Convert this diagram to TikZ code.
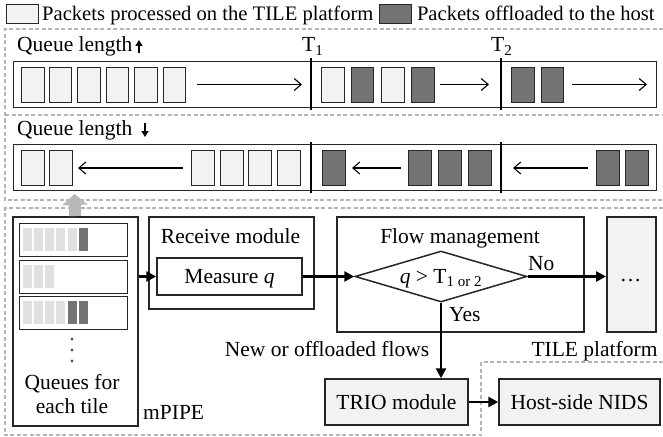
\documentclass[tikz,border=0pt]{standalone}
\usepackage{fontspec}
\setmainfont{Liberation Serif}
\usetikzlibrary{arrows.meta,shapes.geometric,calc}

\definecolor{pktlight}{HTML}{F2F2F2}
\definecolor{pktdark}{HTML}{737373}
\definecolor{edgec}{HTML}{262626}
\definecolor{dashc}{HTML}{B4B4B4}
\definecolor{barlight}{HTML}{E0E0E0}
\definecolor{liftc}{HTML}{B8B8B8}

\begin{document}
\begin{tikzpicture}[x=1pt,y=-1pt,
  font=\fontsize{21.5}{24}\selectfont,
  region/.style={draw=dashc, line width=1.2pt, dash pattern=on 4pt off 2.5pt},
  qbarbox/.style={draw=edgec, line width=1.4pt, inner sep=0pt, anchor=north west,
                  minimum width=643pt, minimum height=46pt},
  pkt/.style={draw=edgec, line width=1.2pt, minimum width=22.5pt, minimum height=35pt,
              inner sep=0pt, anchor=north west},
  lp/.style={pkt, fill=pktlight},
  dp/.style={pkt, fill=pktdark},
  flowarr/.style={draw=black, line width=1.1pt,
                  -{Straight Barb[length=7pt,width=12pt,line width=1.1pt]}},
  thr/.style={line width=2.6pt, black},
  box/.style={draw=edgec, line width=1.5pt, inner sep=0pt},
  gbox/.style={box, fill=pktlight},
  mainarr/.style={line width=2.6pt, -{Triangle[length=10pt,width=10pt]}},
  lbl/.style={inner sep=0pt, anchor=base},
  tilebar/.style={inner sep=0pt, minimum width=9pt, minimum height=23pt, anchor=north west},
  tl/.style={tilebar, fill=barlight},
  td/.style={tilebar, fill=pktdark},
  innerq/.style={draw=edgec, line width=1.3pt, inner sep=0pt, anchor=north west,
                 minimum width=108pt, minimum height=33pt},
 ]
\useasboundingbox (0,0) rectangle (663,436);

% ---- legend ----
\begin{scope}[font=\fontsize{20.6}{24}\selectfont]
\node[lp, minimum width=32pt, minimum height=19pt] (legL) at (6,4) {};
\node[lbl, anchor=base west] (legLt) at (42,21) {Packets processed on the TILE platform};
\node[dp, minimum width=32pt, minimum height=19pt] (legD) at ($(legLt.base east)+(5,-17)$) {};
\node[lbl, anchor=base west] (legDt) at ($(legD.north east)+(5,17)$) {Packets offloaded to the host};
\end{scope}

% ---- dashed regions ----
\draw[region] (663,29) -- (5,29) -- (5,200) -- (663,200);
\draw[region] (5,115) -- (663,115);
\draw[region] (663,208) -- (5,208) -- (5,435) -- (481,435) -- (481,362) -- (663,362);

% ---- queue growing ----
\node[lbl, anchor=base west] (h1) at (17,52) {Queue length};
\coordinate (h1a) at (139,53);
\coordinate (h1b) at (139,40);
\draw[line width=2.2pt, -{Triangle[length=6pt,width=7pt]}] (h1a) -- (h1b);

\node[qbarbox] (bar1) at (13,61) {};
\foreach \x [count=\i] in {21,48.5,77,105.5,134,162.5}
  \node[lp] (a\i) at (\x,67) {};
\node[lp] (b1) at (321,67) {};
\node[dp] (b2) at (350.5,67) {};
\node[lp] (b3) at (381,67) {};
\node[dp] (b4) at (411,67) {};
\node[dp] (c1) at (511,67) {};
\node[dp] (c2) at (540.5,67) {};

\coordinate (r1s) at (197,84.5);  \coordinate (r1e) at (302,84.5);
\coordinate (r2s) at (440,84.5);  \coordinate (r2e) at (489,84.5);
\coordinate (r3s) at (572,84.5);  \coordinate (r3e) at (647,84.5);
\draw[flowarr] (r1s) -- (r1e);
\draw[flowarr] (r2s) -- (r2e);
\draw[flowarr] (r3s) -- (r3e);

\node[lbl, anchor=base west] (T1) at (302,52) {T\textsubscript{1}};
\node[lbl, anchor=base west] (T2) at (491,52) {T\textsubscript{2}};
\coordinate (t1a) at (311,58);  \coordinate (t1b) at (311,110);
\coordinate (t2a) at (501,58);  \coordinate (t2b) at (501,110);
\draw[thr] (t1a) -- (t1b);
\draw[thr] (t2a) -- (t2b);

% ---- queue shrinking ----
\node[lbl, anchor=base west] (h2) at (17,135) {Queue length};
\coordinate (h2a) at (145,123);
\coordinate (h2b) at (145,137);
\draw[line width=2.2pt, -{Triangle[length=6pt,width=7pt]}] (h2a) -- (h2b);

\node[qbarbox] (bar2) at (13,144) {};
\foreach \x [count=\i] in {21,49,191,220,248,277}
  \node[lp] (d\i) at (\x,150) {};
\foreach \x [count=\i] in {322,408,438,468,596,625}
  \node[dp] (e\i) at (\x,150) {};

\coordinate (s1s) at (183,168);  \coordinate (s1e) at (78,168);
\coordinate (s2s) at (401,168);  \coordinate (s2e) at (352,168);
\coordinate (s3s) at (588,168);  \coordinate (s3e) at (513,168);
\draw[flowarr] (s1s) -- (s1e);
\draw[flowarr] (s2s) -- (s2e);
\draw[flowarr] (s3s) -- (s3e);

\coordinate (t3a) at (311,142);  \coordinate (t3b) at (311,193);
\coordinate (t4a) at (501,142);  \coordinate (t4b) at (501,193);
\draw[thr] (t3a) -- (t3b);
\draw[thr] (t4a) -- (t4b);

% ---- mPIPE queues ----
\node[box, anchor=north west, minimum width=125pt, minimum height=209pt] (cont) at (12,216) {};
\coordinate (lift) at (74.5,194);
\draw[liftc, line width=12pt, -{Triangle[length=11pt,width=25pt]}] (cont.north) -- (lift);

\node[innerq] (q1) at (19,223) {};
\node[innerq] (q2) at (19,259.5) {};
\node[innerq] (q3) at (19,295.5) {};
\foreach \x [count=\i] in {23,34,45,56,67.5}
  \node[tl] (qa\i) at (\x,228) {};
\node[td] (qa6) at (78.5,228) {};
\foreach \x [count=\i] in {23,34,45}
  \node[tl] (qb\i) at (\x,264.5) {};
\foreach \x [count=\i] in {23,34,45,56}
  \node[tl] (qc\i) at (\x,300.5) {};
\node[td] (qc5) at (67.5,300.5) {};
\node[td] (qc6) at (78.5,300.5) {};

\foreach \y [count=\i] in {339,350,361}
  \node[circle, fill=edgec!80, inner sep=0pt, minimum size=3.4pt] (dot\i) at (72,\y) {};

\node[lbl] (qtx1) at (72,389) {Queues for};
\node[lbl] (qtx2) at (72,413) {each tile};
\node[lbl, anchor=base west] (mpipe) at (143,419) {mPIPE};

% ---- receive module ----
\node[box, anchor=north west, minimum width=165pt, minimum height=92pt] (recv) at (148,216) {};
\node[lbl] (recvt) at (230.5,243) {Receive module};
\node[box, minimum width=145pt, minimum height=37pt, text depth=0pt] (meas) at (229.5,276.5) {Measure \textit{q}};

% ---- flow management ----
\node[box, anchor=north west, minimum width=247pt, minimum height=115pt] (flow) at (336,216) {};
\node[lbl] (flowt) at (460,243) {Flow management};
\node[diamond, draw=edgec, line width=1.5pt, inner sep=0pt, aspect=3.4,
      minimum width=172pt, minimum height=51pt, text depth=0pt] (dec) at (441,276.5)
      {\textit{q} > T\textsubscript{1 or 2}};
\node[lbl, anchor=base west] (no) at (528,270) {No};
\node[lbl, anchor=base west] (yes) at (449,321) {Yes};

\node[gbox, anchor=north west, minimum width=49pt, minimum height=115pt] (more) at (606,216) {};
\node[lbl] (moret) at (630.5,281) {…};

\node[lbl] (newfl) at (327,356) {New or offloaded flows};
\node[lbl] (tilep) at (594.5,356) {TILE platform};

% ---- TRIO and host ----
\node[gbox, minimum width=143pt, minimum height=46pt] (trio) at (396.5,402) {TRIO module};
\node[gbox, minimum width=161pt, minimum height=46pt] (host) at (579.5,402) {Host-side NIDS};

% ---- data path ----
\draw[mainarr] (cont.east |- meas.west) -- (meas.west);
\draw[mainarr] (meas.east) -- (dec.west);
\draw[mainarr] (dec.east) -- (dec.east -| more.west);
\draw[mainarr] (dec.south) -- (dec.south |- trio.north);
\draw[mainarr] (trio.east) -- (host.west);
\end{tikzpicture}
\end{document}
